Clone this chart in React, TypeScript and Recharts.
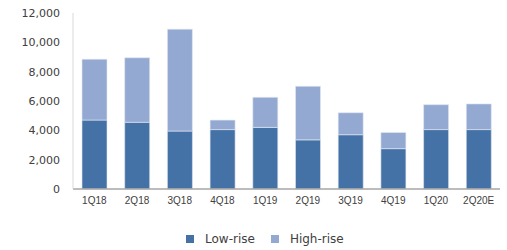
import { BarChart, Bar, XAxis, YAxis, Legend } from "recharts";

const quarters = ["1Q18", "2Q18", "3Q18", "4Q18", "1Q19", "2Q19", "3Q19", "4Q19", "1Q20", "2Q20E"];
const lowRise = [4700, 4550, 3950, 4050, 4200, 3350, 3700, 2750, 4050, 4050];
const highRise = [4150, 4400, 6950, 650, 2050, 3650, 1500, 1100, 1700, 1750];
const yTicks = [0, 2000, 4000, 6000, 8000, 10000, 12000];

const data = quarters.map((q, i) => ({ q, low: lowRise[i], high: highRise[i] }));

const xFont = "'Liberation Sans', Arial, sans-serif";
const yFont = "'DejaVu Sans', sans-serif";
const textColor = "#404040";
const lowColor = "#4472a7";
const highColor = "#93a9d1";

const legendItems = [
  { label: "Low-rise", color: lowColor },
  { label: "High-rise", color: highColor },
];

function LegendBox() {
  return (
    <div style={{ display: "flex", paddingLeft: 186, lineHeight: "12px", fontFamily: yFont, fontSize: 12, color: textColor }}>
      {legendItems.map((it) => (
        <div key={it.label} style={{ display: "flex", alignItems: "center", marginRight: 16 }}>
          <div style={{ width: 8, height: 8, background: it.color, marginRight: 11 }} />
          <span>{it.label}</span>
        </div>
      ))}
    </div>
  );
}

export default function App() {
  return (
    <div style={{ position: "absolute", left: 0, top: 0, background: "#fff" }}>
      <BarChart
        width={507}
        height={250}
        data={data}
        margin={{ top: 13, right: 7, left: 0, bottom: 0 }}
        barSize={25}
      >
        <XAxis
          dataKey="q"
          axisLine={{ stroke: "#a6a6a6", strokeWidth: 1.5 }}
          tickLine={false}
          tick={{ fill: textColor, fontSize: 10, fontFamily: xFont }}
          tickMargin={2}
          height={44}
          interval={0}
        />
        <YAxis
          domain={[0, 12000]}
          ticks={yTicks}
          width={73}
          axisLine={{ stroke: "#d9d9d9" }}
          tickLine={false}
          tick={{ fill: textColor, fontSize: 11, fontFamily: yFont }}
          tickMargin={7}
          tickFormatter={(v: number) => v.toLocaleString("en-US")}
        />
        <Legend
          verticalAlign="bottom"
          height={17}
          wrapperStyle={{ left: 0, width: 507 }}
          content={() => <LegendBox />}
        />
        <Bar dataKey="low" name="Low-rise" stackId="a" fill={lowColor} stroke="#dfe6f0" strokeWidth={0.6} isAnimationActive={false} />
        <Bar dataKey="high" name="High-rise" stackId="a" fill={highColor} stroke="#e4eaf4" strokeWidth={0.6} isAnimationActive={false} />
      </BarChart>
    </div>
  );
}
